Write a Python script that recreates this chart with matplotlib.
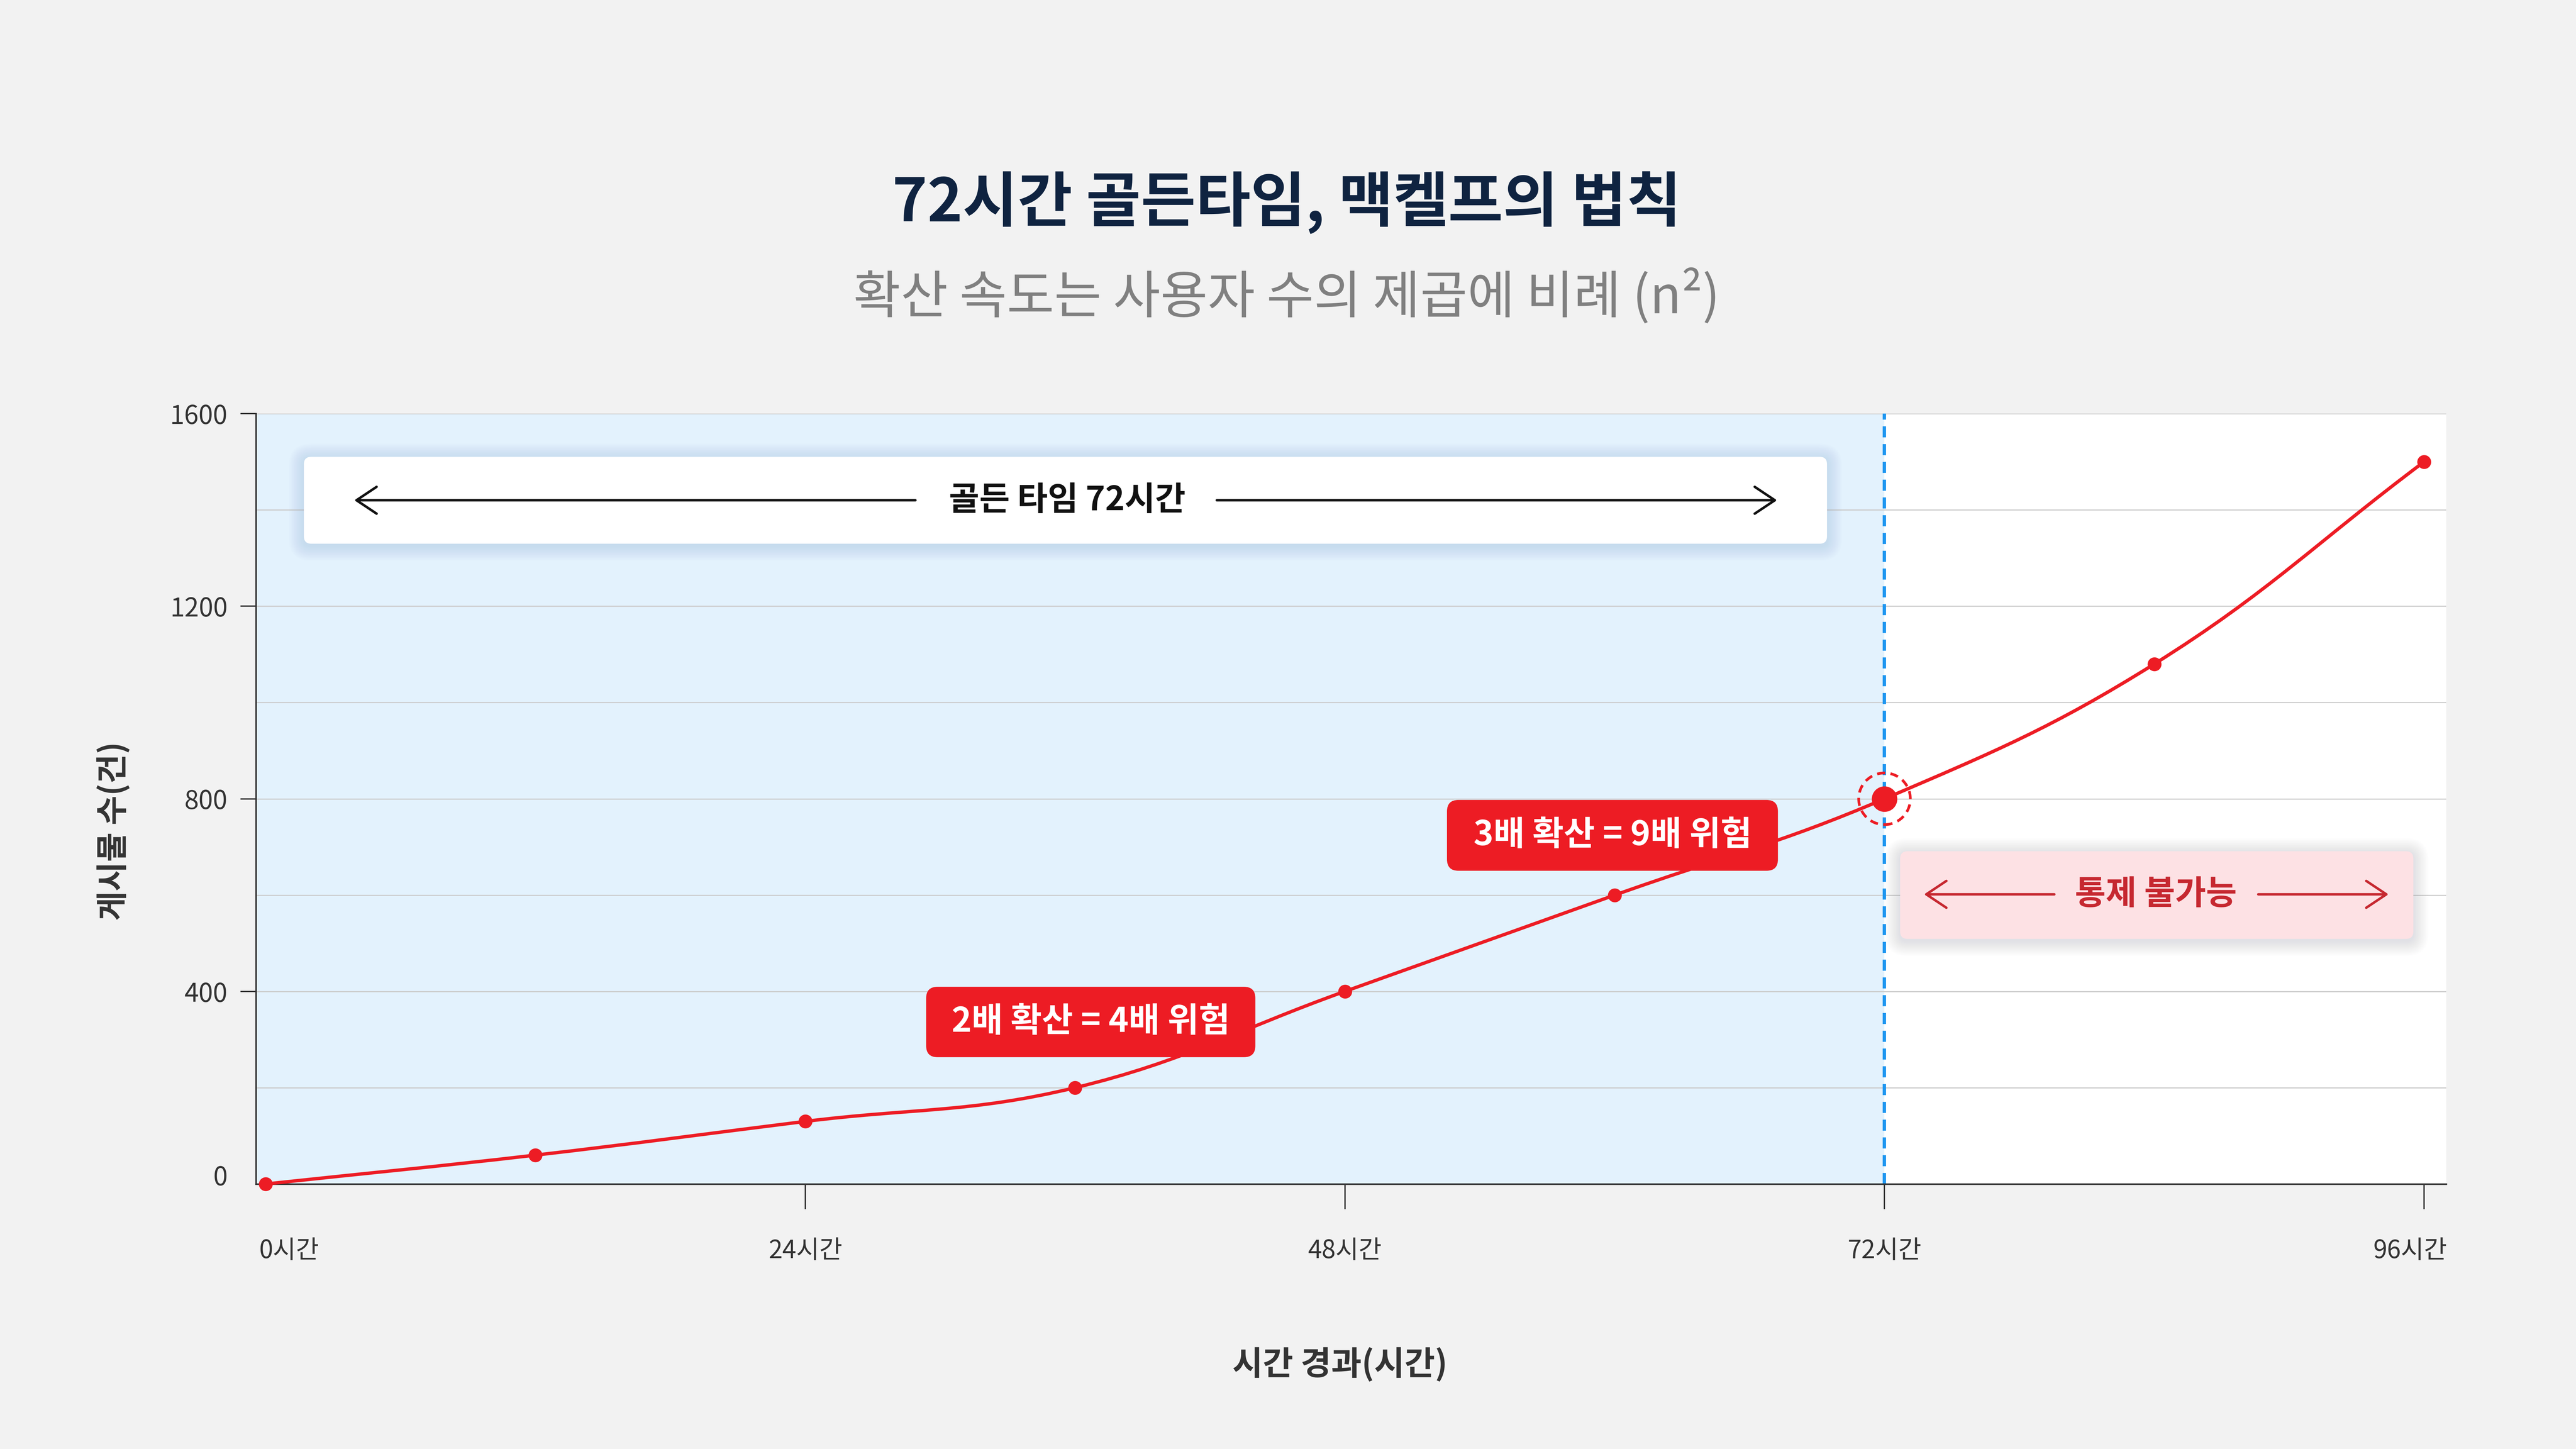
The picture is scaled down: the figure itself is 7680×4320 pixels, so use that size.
import numpy as np
import matplotlib
matplotlib.use('Agg')
import matplotlib.pyplot as plt
from matplotlib.patches import FancyBboxPatch, Circle, PathPatch
from matplotlib.path import Path
from matplotlib.transforms import IdentityTransform, ScaledTranslation

plt.rcParams['font.family'] = ['Noto Sans CJK KR', 'DejaVu Sans']

# ---------------- data ----------------
hours = [0, 12, 24, 36, 48, 60, 72, 84, 96]
posts = [0, 60, 130, 200, 400, 600, 800, 1080, 1500]
x_ticks = [0, 24, 48, 72, 96]
x_tick_labels = ['0시간', '24시간', '48시간', '72시간', '96시간']
y_ticks = [0, 400, 800, 1200, 1600]
y_grid = [0, 200, 400, 600, 800, 1000, 1200, 1400, 1600]
golden_hours = 72
golden_value = 800

title = '72시간 골든타임, 맥켈프의 법칙'
subtitle = '확산 속도는 사용자 수의 제곱에 비례 (n²)'
x_label = '시간 경과(시간)'
y_label = '게시물 수(건)'
golden_text = '골든 타임 72시간'
uncontrol_text = '통제 불가능'
note1 = '2배 확산 = 4배 위험'
note2 = '3배 확산 = 9배 위험'

# ---------------- style ----------------
BG = '#f2f2f2'
RED = '#ed1c24'
DARK_RED = '#c62830'
BLUE = '#1e96f0'
SHADE = '#e3f2fd'
TXT = '#333333'

W, H = 7680, 4320
DPI = 480
fig = plt.figure(figsize=(W / DPI, H / DPI), dpi=DPI, facecolor=BG)
ax = fig.add_axes([763 / W, 1 - 3530 / H, 6530 / W, 2297 / H])
ax.set_facecolor('white')
ax.set_xlim(-0.43, 96.98)
ax.set_ylim(0, 1600)

# shaded golden-time region
ax.axvspan(-0.43, golden_hours, color=SHADE, lw=0, zorder=0)

# grid
for g in y_grid:
    ax.axhline(g, color='#cccccc', lw=0.5, zorder=1)

# spines
for s in ['top', 'right']:
    ax.spines[s].set_visible(False)
for s in ['left', 'bottom']:
    ax.spines[s].set_color(TXT)
    ax.spines[s].set_linewidth(0.7)
    ax.spines[s].set_zorder(3)

# ticks
ax.set_yticks(y_ticks)
ax.set_yticklabels([str(v) for v in y_ticks])
ax.tick_params(axis='y', length=6.9, width=0.6, color=TXT, pad=5.8,
               labelsize=11.6, labelcolor=TXT)
ax.set_xticks(x_ticks)
ax.set_xticklabels(x_tick_labels)
ax.tick_params(axis='x', length=11.2, width=0.6, color=TXT, pad=13,
               labelsize=11.2, labelcolor=TXT)
xt = ax.get_xticklabels()
xt[0].set_ha('left')
xt[0].set_transform(xt[0].get_transform() + ScaledTranslation(-3.0 / 72, 0, fig.dpi_scale_trans))
xt[-1].set_ha('right')
xt[-1].set_transform(xt[-1].get_transform() + ScaledTranslation(10.3 / 72, 0, fig.dpi_scale_trans))
ax.xaxis.get_major_ticks()[0].tick1line.set_visible(False)
ax.yaxis.get_major_ticks()[0].tick1line.set_visible(False)
yl0 = ax.get_yticklabels()[0]
yl0.set_transform(yl0.get_transform() + ScaledTranslation(0, 4 / 72, fig.dpi_scale_trans))

# vertical dashed line at 72h
ax.axvline(golden_hours, color=BLUE, lw=1.5, linestyle=(0, (3.3, 2.0)), zorder=2)

# ---------------- smooth curve (Chart.js-like spline, tension 0.4) ----------------
P = ax.transData.transform(np.column_stack([hours, posts]).astype(float))
tension = 0.4
n = len(P)
cp_in, cp_out = [], []
for i in range(n):
    prev = P[i - 1] if i > 0 else P[i]
    nxt = P[i + 1] if i < n - 1 else P[i]
    d01 = np.hypot(*(P[i] - prev))
    d12 = np.hypot(*(nxt - P[i]))
    tot = d01 + d12
    s01 = d01 / tot if tot else 0
    s12 = d12 / tot if tot else 0
    cp_in.append(P[i] - tension * s01 * (nxt - prev))
    cp_out.append(P[i] + tension * s12 * (nxt - prev))
verts = [P[0]]
codes = [Path.MOVETO]
for i in range(n - 1):
    verts += [cp_out[i], cp_in[i + 1], P[i + 1]]
    codes += [Path.CURVE4] * 3
ax.add_patch(PathPatch(Path(verts, codes), transform=IdentityTransform(),
                       fill=False, edgecolor=RED, lw=1.5, zorder=4, clip_on=False,
                       capstyle='round', joinstyle='round'))
ax.plot(hours, posts, linestyle='none', marker='o', ms=5.2, color=RED,
        zorder=5, clip_on=False)

# highlight at 72h
ax.plot([golden_hours], [golden_value], marker='o', ms=10.4, color=RED,
        zorder=6, clip_on=False)
cx, cy = ax.transData.transform((golden_hours, golden_value))
ax.add_patch(Circle((cx, cy), 77, transform=IdentityTransform(), fill=False,
                    edgecolor=RED, lw=1.2, linestyle=(0, (3.0, 2.0)),
                    zorder=6, clip_on=False))


# ---------------- boxes ----------------
def px_box(fx0, fy0, fx1, fy1):
    (x0, y0) = ax.transAxes.transform((fx0, fy0))
    (x1, y1) = ax.transAxes.transform((fx1, fy1))
    return x0, y0, x1 - x0, y1 - y0


def rbox(fx0, fy0, fx1, fy1, face, radius, z, shadow=None, s_off=6, s_spread=45, s_alpha=0.014):
    x0, y0, w, h = px_box(fx0, fy0, fx1, fy1)
    if shadow is not None:
        layers = 15
        for k in range(layers):
            e = s_spread * (k + 1) / layers
            ax.add_patch(FancyBboxPatch((x0 - e, y0 - s_off - e), w + 2 * e, h + 2 * e,
                                        boxstyle=f'round,pad=0,rounding_size={radius + e}',
                                        transform=IdentityTransform(), facecolor=shadow,
                                        edgecolor='none', alpha=s_alpha, zorder=z - 0.1,
                                        clip_on=False))
    ax.add_patch(FancyBboxPatch((x0, y0), w, h,
                                boxstyle=f'round,pad=0,rounding_size={radius}',
                                transform=IdentityTransform(), facecolor=face,
                                edgecolor='none', zorder=z, clip_on=False))


# golden time box
rbox(0.0219, 0.8311, 0.7173, 0.9439, 'white', 22, 7, shadow='#8aa6c8')
ax.text(0.3704, 0.8875, golden_text, transform=ax.transAxes, ha='center', va='center',
        fontsize=14.8, fontweight='bold', color='#111111', zorder=8)
arrow_kw = dict(arrowstyle='->,head_length=0.45,head_width=0.3', lw=1.1,
                shrinkA=0, shrinkB=0, mutation_scale=20)
ax.annotate('', xy=(0.0449, 0.8875), xytext=(0.3011, 0.8875), xycoords='axes fraction',
            arrowprops=dict(color='#111111', **arrow_kw), zorder=8)
ax.annotate('', xy=(0.6945, 0.8875), xytext=(0.4387, 0.8875), xycoords='axes fraction',
            arrowprops=dict(color='#111111', **arrow_kw), zorder=8)

# uncontrollable box
rbox(0.7507, 0.3182, 0.9850, 0.4319, '#fde1e4', 22, 7, shadow='#a0a0ac')
ax.text(0.8674, 0.3760, uncontrol_text, transform=ax.transAxes, ha='center', va='center',
        fontsize=15, fontweight='bold', color=DARK_RED, zorder=8)
ax.annotate('', xy=(0.7616, 0.3760), xytext=(0.8211, 0.3760), xycoords='axes fraction',
            arrowprops=dict(color=DARK_RED, **arrow_kw), zorder=8)
ax.annotate('', xy=(0.9737, 0.3760), xytext=(0.9142, 0.3760), xycoords='axes fraction',
            arrowprops=dict(color=DARK_RED, **arrow_kw), zorder=8)

# red notes
rbox(0.3060, 0.1646, 0.4563, 0.2560, RED, 34, 7)
ax.text(0.3812, 0.2103, note1, transform=ax.transAxes, ha='center', va='center',
        fontsize=15.2, fontweight='bold', color='white', zorder=8)
rbox(0.5438, 0.4066, 0.6949, 0.4985, RED, 34, 7)
ax.text(0.6194, 0.4525, note2, transform=ax.transAxes, ha='center', va='center',
        fontsize=15.2, fontweight='bold', color='white', zorder=8)

# ---------------- titles & axis labels ----------------
fig.text(0.4995, 0.8600, title, ha='center', va='center', fontsize=26.7,
         fontweight='bold', color='#0f2340')
fig.text(0.4995, 0.7950, subtitle, ha='center', va='center', fontsize=23,
         color='#808080')
fig.text(0.5201, 0.0581, x_label, ha='center', va='center', fontsize=14.8,
         fontweight='bold', color=TXT)
fig.text(0.0441, 0.4264, y_label, ha='center', va='center', fontsize=14.3,
         fontweight='bold', color=TXT, rotation=90)

fig.savefig('out.png', dpi=DPI, facecolor=BG)
